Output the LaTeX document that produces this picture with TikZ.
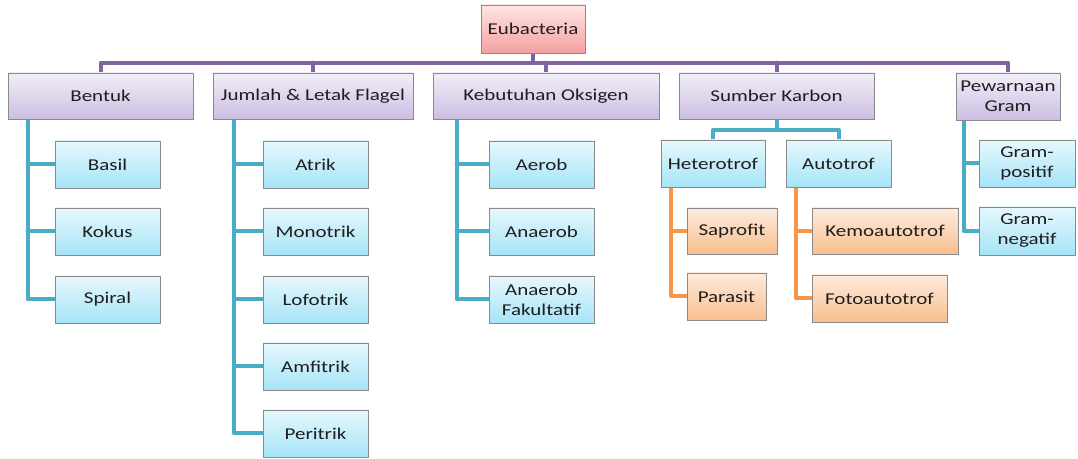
\documentclass[tikz,border=0pt]{standalone}
\usepackage{fontspec}
\setmainfont{Carlito}[FakeStretch=1.27]
\usetikzlibrary{shadows,calc}

\definecolor{txt}{HTML}{1E1E1E}
\definecolor{edge}{HTML}{8A8A8A}
\definecolor{purpleline}{HTML}{8064A2}
\definecolor{cyanline}{HTML}{4BACC6}
\definecolor{orangeline}{HTML}{F79646}

\pgfdeclarelayer{background}
\pgfsetlayers{background,main}

\tikzset{
  base/.style={rectangle, draw=edge, line width=0.6pt, inner sep=0pt,
    text=txt, font=\fontsize{12.4pt}{15pt}\selectfont, align=center,
    drop shadow={opacity=0.3, shadow xshift=1.1pt, shadow yshift=-1.1pt}},
  rootbox/.style={base, top color=red!10!white, bottom color={rgb,255:red,243;green,160;blue,160}},
  catbox/.style={base, top color={rgb,255:red,242;green,238;blue,248}, bottom color={rgb,255:red,204;green,190;blue,227}},
  leafbox/.style={base, top color={rgb,255:red,230;green,248;blue,253}, bottom color={rgb,255:red,166;green,228;blue,247}},
  subbox/.style={base, top color={rgb,255:red,253;green,236;blue,222}, bottom color={rgb,255:red,249;green,190;blue,142}},
  pline/.style={draw=purpleline, line width=3pt, line cap=round, line join=round},
  cline/.style={draw=cyanline, line width=3pt, line cap=round, line join=round},
  oline/.style={draw=orangeline, line width=3pt, line cap=round, line join=round},
}

% box from its corners: name, x1, y1, x2, y2, style, text
\newcommand\boxnode[7]{%
  \node[#6, minimum width={(#4-#2)*0.75pt}, minimum height={(#5-#3)*0.75pt}]
    (#1) at ({(#2+#4)/2},{(#3+#5)/2}) {#7};}

\begin{document}
\begin{tikzpicture}[x=0.75pt, y=-0.75pt]
\useasboundingbox (0,0) rectangle (1078,459);

% root and categories
\boxnode{eu}{481}{5}{585}{53}{rootbox}{Eubacteria}
\boxnode{bentuk}{8}{73}{193}{119}{catbox}{Bentuk}
\boxnode{jumlah}{213}{73}{413}{119}{catbox}{Jumlah \& Letak Flagel}
\boxnode{keb}{433}{73}{659}{119}{catbox}{Kebutuhan Oksigen}
\boxnode{sumber}{679}{73}{874}{119}{catbox}{Sumber Karbon}
\boxnode{gram}{956}{73}{1060}{120}{catbox}{Pewarnaan\\Gram}

% Bentuk
\boxnode{basil}{55}{141}{160}{188}{leafbox}{Basil}
\boxnode{kokus}{55}{208}{160}{255}{leafbox}{Kokus}
\boxnode{spiral}{55}{276}{160}{323}{leafbox}{Spiral}

% Flagel
\boxnode{atrik}{263}{141}{368}{188}{leafbox}{Atrik}
\boxnode{mono}{263}{208}{368}{255}{leafbox}{Monotrik}
\boxnode{lofo}{263}{276}{368}{323}{leafbox}{Lofotrik}
\boxnode{amfi}{263}{343}{368}{390}{leafbox}{Amfitrik}
\boxnode{peri}{263}{410}{368}{457}{leafbox}{Peritrik}

% Oksigen
\boxnode{aerob}{489}{141}{594}{188}{leafbox}{Aerob}
\boxnode{anaerob}{489}{208}{594}{255}{leafbox}{Anaerob}
\boxnode{fak}{489}{276}{594}{323}{leafbox}{Anaerob\\Fakultatif}

% Karbon
\boxnode{het}{661}{140}{765}{187}{leafbox}{Heterotrof}
\boxnode{aut}{786}{140}{891}{187}{leafbox}{Autotrof}
\boxnode{sapro}{687}{208}{777}{254}{subbox}{Saprofit}
\boxnode{para}{687}{273}{766}{320}{subbox}{Parasit}
\boxnode{kemo}{812}{208}{958}{254}{subbox}{Kemoautotrof}
\boxnode{foto}{812}{275}{947}{322}{subbox}{Fotoautotrof}

% Gram
\boxnode{gpos}{979}{140}{1075}{187}{leafbox}{Gram-\\positif}
\boxnode{gneg}{979}{207}{1075}{255}{leafbox}{Gram-\\negatif}

% connectors, behind the boxes
\begin{pgfonlayer}{background}
\coordinate (bus) at ([yshift=7.5pt]bentuk.north);
\draw[pline] (bentuk.north) |- (gram.north |- bus) -- (gram.north);
\foreach \n in {eu.south, jumlah.north, keb.north, sumber.north}
  \draw[pline] (\n) -- (\n |- bus);

\coordinate (tb) at ([xshift=15pt]bentuk.south west);
\draw[cline] (tb) |- (spiral.west);
\foreach \n in {basil, kokus} \draw[cline] (\n.west) -- (\n.west -| tb);

\coordinate (tj) at ([xshift=16pt]jumlah.south west);
\draw[cline] (tj) |- (peri.west);
\foreach \n in {atrik, mono, lofo, amfi} \draw[cline] (\n.west) -- (\n.west -| tj);

\coordinate (tk) at ([xshift=18pt]keb.south west);
\draw[cline] (tk) |- (fak.west);
\foreach \n in {aerob, anaerob} \draw[cline] (\n.west) -- (\n.west -| tk);

\coordinate (tg) at ([xshift=6pt]gram.south west);
\draw[cline] (tg) |- (gneg.west);
\draw[cline] (gpos.west) -- (gpos.west -| tg);

\coordinate (kbus) at ([yshift=-8pt]sumber.south);
\draw[cline] (het.north) |- (aut.north |- kbus) -- (aut.north);
\draw[cline] (sumber.south) -- (kbus);

\coordinate (th) at ([xshift=8pt]het.south west);
\draw[oline] (th) |- (para.west);
\draw[oline] (sapro.west) -- (sapro.west -| th);

\coordinate (ta) at ([xshift=8pt]aut.south west);
\draw[oline] (ta) |- (foto.west);
\draw[oline] (kemo.west) -- (kemo.west -| ta);
\end{pgfonlayer}
\end{tikzpicture}
\end{document}
